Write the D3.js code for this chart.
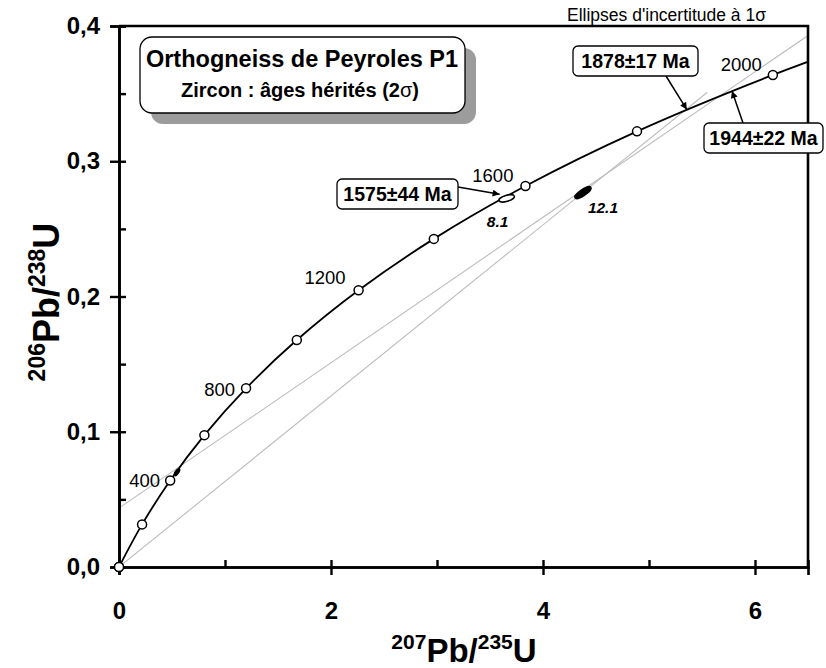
<!DOCTYPE html>
<html>
<head>
<meta charset="utf-8">
<script src="https://cdn.jsdelivr.net/npm/d3@7"></script>
<style>
  body { margin: 0; background: #fff; }
  svg text { font-family: "Liberation Sans", Arial, sans-serif; }
</style>
</head>
<body>
<div id="graphique"></div>
<script>
// Concordia : repères d'âge (Ma) et rapports isotopiques
const ages = [0, 200, 400, 600, 800, 1000, 1200, 1400, 1600, 1800, 2000, 2100]
const pb207u235 = [0, 0.2177, 0.4828, 0.8056, 1.1987, 1.6774, 2.2603, 2.9701, 3.8344, 4.8868, 6.1685, 6.9105]
const pb206u238 = [0, 0.0315, 0.0640, 0.0975, 0.1321, 0.1678, 0.2046, 0.2426, 0.2817, 0.3221, 0.3638, 0.3851]
const agesLabelled = [400, 800, 1200, 1600, 2000]

// Discordias (gris)
const discordX = [[0, 5.55], [0, 6.5]]
const discordY = [[0, 0.351], [0.0435, 0.393]]

// Ellipses des analyses
const analyses = ["8.1", "12.1", ""]
const anaX = [3.657, 4.377, 0.547]
const anaY = [0.2726, 0.2768, 0.0701]

// Âges d'intercept annotés
const intercepts = ["1575±44 Ma", "1878±17 Ma", "1944±22 Ma"]
const intX = [3.62, 5.357, 5.783]
const intY = [0.2766, 0.3382, 0.352]

const xTicks = [0, 1, 2, 3, 4, 5, 6]
const yTicks = [0, 0.05, 0.1, 0.15, 0.2, 0.25, 0.3, 0.35, 0.4]

const W = 826, H = 668
const margin = { top: 26, right: 18, bottom: 101, left: 119 }

let x = d3.scaleLinear().domain([0, 6.5]).range([margin.left, W - margin.right])
let y = d3.scaleLinear().domain([0, 0.4]).range([H - margin.bottom, margin.top])

const fr = d3.formatLocale({ decimal: ",", thousands: " ", grouping: [3], currency: ["", "€"] })

let svg = d3.select("#graphique").append("svg")
    .attr("width", W)
    .attr("height", H)

let defs = svg.append("defs")
defs.append("clipPath").attr("id", "zone")
    .append("rect")
    .attr("x", x(0)).attr("y", y(0.4))
    .attr("width", x(6.5) - x(0)).attr("height", y(0) - y(0.4))
defs.append("marker")
    .attr("id", "fleche")
    .attr("viewBox", "0 0 10 10")
    .attr("refX", 10).attr("refY", 5)
    .attr("markerWidth", 9).attr("markerHeight", 7)
    .attr("markerUnits", "userSpaceOnUse")
    .attr("orient", "auto")
    .append("path")
    .attr("d", "M0,0 L10,5 L0,10 Z")
    .attr("fill", "black")

let plot = svg.append("g").attr("clip-path", "url(#zone)")

// discordias
discordX.forEach((dx, i) => {
    plot.append("line")
        .attr("x1", x(dx[0])).attr("y1", y(discordY[i][0]))
        .attr("x2", x(dx[1])).attr("y2", y(discordY[i][1]))
        .attr("stroke", "#bdbdbd")
        .attr("stroke-width", 1.1)
})

// courbe concordia
const pts = ages.map((a, i) => [pb207u235[i], pb206u238[i]])
plot.append("path")
    .datum(pts)
    .attr("fill", "none")
    .attr("stroke", "black")
    .attr("stroke-width", 1.8)
    .attr("d", d3.line().x(d => x(d[0])).y(d => y(d[1])).curve(d3.curveCatmullRom.alpha(0.5)))

// ellipses
const ellStyle = [
    { rx: 8, ry: 3, rot: -16, fill: "white" },
    { rx: 9.5, ry: 3, rot: -34, fill: "black" },
    { rx: 4, ry: 1.6, rot: -55, fill: "black" }
]
analyses.forEach((nom, i) => {
    const s = ellStyle[i]
    svg.append("ellipse")
        .attr("cx", 0).attr("cy", 0)
        .attr("rx", s.rx).attr("ry", s.ry)
        .attr("transform", `translate(${x(anaX[i])},${y(anaY[i])}) rotate(${s.rot})`)
        .attr("fill", s.fill)
        .attr("stroke", "black")
        .attr("stroke-width", 1.5)
})
const nomPos = [[-9, 29], [20, 20]]
analyses.forEach((nom, i) => {
    if (!nom) return
    svg.append("text")
        .attr("x", x(anaX[i]) + nomPos[i][0])
        .attr("y", y(anaY[i]) + nomPos[i][1])
        .attr("text-anchor", "middle")
        .attr("font-size", 15.5)
        .attr("font-weight", "bold")
        .attr("font-style", "italic")
        .text(nom)
})

// repères d'âge
svg.append("g").selectAll("circle")
    .data(ages.filter(a => a <= 2000))
    .join("circle")
    .attr("cx", (d, i) => x(pb207u235[i]))
    .attr("cy", (d, i) => y(pb206u238[i]))
    .attr("r", 4.5)
    .attr("fill", "white")
    .attr("stroke", "black")
    .attr("stroke-width", 1.5)

const ageOff = { 400: [-10, 7], 800: [-11, 8], 1200: [-13, -6], 1600: [-12, -4], 2000: [-11, -4] }
agesLabelled.forEach(a => {
    const i = ages.indexOf(a)
    svg.append("text")
        .attr("x", x(pb207u235[i]) + ageOff[a][0])
        .attr("y", y(pb206u238[i]) + ageOff[a][1])
        .attr("text-anchor", "end")
        .attr("font-size", 18.5)
        .text(a)
})

// axes
const gx = svg.append("g").attr("transform", `translate(0,${y(0)})`)
gx.call(d3.axisBottom(x).tickValues([0, 2, 4, 6]).tickSize(8).tickPadding(27).tickFormat(d3.format("d")))
const gxi = svg.append("g").attr("transform", `translate(0,${y(0)})`)
gxi.call(d3.axisTop(x).tickValues(xTicks).tickSize(7).tickFormat(""))
const gy = svg.append("g").attr("transform", `translate(${x(0)},0)`)
gy.call(d3.axisLeft(y).tickValues([0, 0.1, 0.2, 0.3, 0.4]).tickSize(9).tickPadding(10).tickFormat(fr.format(".1f")))
const gyi = svg.append("g").attr("transform", `translate(${x(0)},0)`)
gyi.call(d3.axisRight(y).tickValues(yTicks).tickSize(7).tickFormat(""))

;[gx, gxi, gy, gyi].forEach(g => {
    g.selectAll("path.domain").attr("stroke-width", 2.6)
    g.selectAll(".tick line").attr("stroke-width", 2.4)
    g.selectAll("text")
        .attr("font-family", "'Liberation Sans', Arial, sans-serif")
        .attr("font-size", 24)
        .attr("font-weight", "bold")
        .attr("fill", "black")
})
// cadre haut et droit
svg.append("path")
    .attr("d", `M${x(0)},${y(0.4)} H${x(6.5)} V${y(0)}`)
    .attr("fill", "none")
    .attr("stroke", "black")
    .attr("stroke-width", 2.6)

// origine (repère 0 par-dessus l'axe)
svg.append("circle")
    .attr("cx", x(pb207u235[0])).attr("cy", y(pb206u238[0]))
    .attr("r", 4.5).attr("fill", "white").attr("stroke", "black").attr("stroke-width", 1.5)

// titres des axes
const xt = svg.append("text")
    .attr("x", 464).attr("y", 662)
    .attr("text-anchor", "middle")
    .attr("font-weight", "bold")
    .attr("font-size", 33)
xt.append("tspan").attr("font-size", 21).attr("dy", -13).text("207")
xt.append("tspan").attr("dy", 13).text("Pb/")
xt.append("tspan").attr("font-size", 21).attr("dy", -13).text("235")
xt.append("tspan").attr("dy", 13).text("U")

const yt = svg.append("text")
    .attr("transform", "translate(59,302) rotate(-90)")
    .attr("text-anchor", "middle")
    .attr("font-weight", "bold")
    .attr("font-size", 36)
yt.append("tspan").attr("font-size", 23).attr("dy", -14).text("206")
yt.append("tspan").attr("dy", 14).text("Pb/")
yt.append("tspan").attr("font-size", 23).attr("dy", -14).text("238")
yt.append("tspan").attr("dy", 14).text("U")

// note d'incertitude
const note = svg.append("text")
    .attr("x", 567).attr("y", 21)
    .attr("font-size", 17.5)
    .text("Ellipses d'incertitude à 1")
note.append("tspan").text("σ")

// cartouche titre
svg.append("rect")
    .attr("x", 151).attr("y", 48).attr("width", 325).attr("height", 76).attr("rx", 12)
    .attr("fill", "#9c9c9c")
svg.append("rect")
    .attr("x", 140).attr("y", 37).attr("width", 325).attr("height", 76).attr("rx", 12)
    .attr("fill", "white").attr("stroke", "black").attr("stroke-width", 1.3)
svg.append("text")
    .attr("x", 302).attr("y", 67)
    .attr("text-anchor", "middle")
    .attr("font-size", 23.5).attr("font-weight", "bold")
    .text("Orthogneiss de Peyroles P1")
const t2 = svg.append("text")
    .attr("x", 300).attr("y", 97)
    .attr("text-anchor", "middle")
    .attr("font-size", 20).attr("font-weight", "bold")
    .text("Zircon : âges hérités (2")
t2.append("tspan").attr("font-weight", "normal").text("σ")
t2.append("tspan").text(")")

// annotations des âges d'intercept : [x boîte, y boîte, largeur, départ flèche x, y]
const boxes = [
    [337, 179, 121, 458, 187],
    [573, 46, 125, 666, 76],
    [704, 123, 119, 743, 123]
]
intercepts.forEach((lab, i) => {
    const b = boxes[i]
    let tx = x(intX[i]), ty = y(intY[i])
    if (i === 0) { tx = x(anaX[0]) - 7; ty = y(anaY[0]) - 4 }
    svg.append("line")
        .attr("x1", b[3]).attr("y1", b[4])
        .attr("x2", tx).attr("y2", ty)
        .attr("stroke", "black").attr("stroke-width", 1.5)
        .attr("marker-end", "url(#fleche)")
    svg.append("rect")
        .attr("x", b[0]).attr("y", b[1]).attr("width", b[2]).attr("height", 30).attr("rx", 5)
        .attr("fill", "white").attr("stroke", "black").attr("stroke-width", 1.3)
    svg.append("text")
        .attr("x", b[0] + b[2] / 2).attr("y", b[1] + 22)
        .attr("text-anchor", "middle")
        .attr("font-size", 19.5).attr("font-weight", "bold")
        .text(lab)
})
</script>
</body>
</html>
